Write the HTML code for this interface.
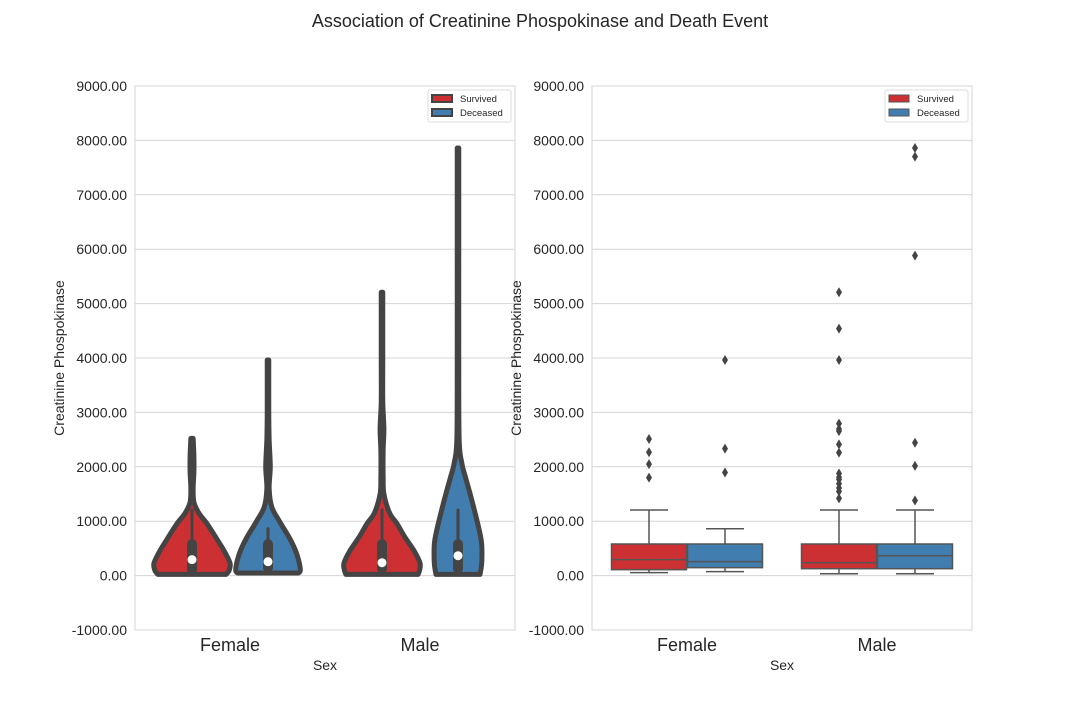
<!DOCTYPE html>
<html><head><meta charset="utf-8"><style>
body{margin:0;background:#fff;font-family:"Liberation Sans",Arial,sans-serif}
svg text{font-family:"Liberation Sans",Arial,sans-serif}
</style></head><body>
<svg id="c" width="1080" height="720" xmlns="http://www.w3.org/2000/svg">
<text x="540" y="27" text-anchor="middle" font-size="18" fill="#262626">Association of Creatinine Phospokinase and Death Event</text>
</svg>
<script>
const categories=["Female","Male"];
const hues=["Survived","Deceased"];
const yTicks=[-1000,0,1000,2000,3000,4000,5000,6000,7000,8000,9000];
// violin profiles: values and relative density (0-1)
const vFS_v=[23,100,230,450,710,950,1150,1350,1600,1900,2200,2522];
const vFS_d=[0.9,0.98,1,0.85,0.62,0.4,0.18,0.05,0.03,0.05,0.05,0.03];
const vFD_v=[47,100,300,500,710,1000,1260,1600,2000,2500,3000,3964];
const vFD_d=[0.8,0.85,0.8,0.7,0.55,0.3,0.1,0.03,0.06,0.03,0.02,0.02];
const vMS_v=[23,100,230,450,710,950,1150,1500,1800,2300,2700,3200,4000,5209];
const vMS_d=[0.95,0.99,1,0.85,0.6,0.4,0.2,0.05,0.03,0.03,0.05,0.02,0.02,0.02];
const vMD_v=[23,200,400,600,800,1150,1500,1800,2070,2500,4000,6000,7861];
const vMD_d=[0.58,0.62,0.63,0.62,0.57,0.45,0.32,0.2,0.1,0.03,0.02,0.02,0.02];
// box stats [low, q1, median, q3, high]
const bFS=[54,109,293,581,1206], bFD=[72,146,256,581,862];
const bMS=[35,127,237,581,1206], bMD=[35,127,366,581,1206];
const oFS=[2511,2267,2050,1800], oFD=[3964,2334,1896];
const oMS=[5209,4540,3964,2794,2695,2656,2413,2261,1876,1808,1767,1688,1610,1548,1419];
const oMD=[7861,7702,5882,2442,2017,1380];
const violins=[[vFS_v,vFS_d],[vFD_v,vFD_d],[vMS_v,vMS_d],[vMD_v,vMD_d]];
const boxes=[bFS,bFD,bMS,bMD];
const outl=[oFS,oFD,oMS,oMD];
const colors=["#cd3033","#427daf"];
const NS="http://www.w3.org/2000/svg";
const svg=document.getElementById('c');
function mk(t,a,p){const e=document.createElementNS(NS,t);for(const k in a)e.setAttribute(k,a[k]);(p||svg).appendChild(e);return e;}
const Y0=86,Y1=630,vmin=-1000,vmax=9000;
function y(v){return Y1-(v-vmin)/(vmax-vmin)*(Y1-Y0);}
function smooth(pts){
  let d='M'+pts[0][0]+','+pts[0][1];
  for(let i=0;i<pts.length-1;i++){
    const p0=pts[Math.max(0,i-1)],p1=pts[i],p2=pts[i+1],p3=pts[Math.min(pts.length-1,i+2)];
    const c1=[p1[0]+(p2[0]-p0[0])/6,p1[1]+(p2[1]-p0[1])/6];
    const c2=[p2[0]-(p3[0]-p1[0])/6,p2[1]-(p3[1]-p1[1])/6];
    d+=` C${c1[0]},${c1[1]} ${c2[0]},${c2[1]} ${p2[0]},${p2[1]}`;
  }
  return d;
}
function panel(x0,kind){
  const W=380,x1=x0+W;
  const g=mk('g',{});
  
  
  function cx(ci,hi){return x0+W*(ci+0.5)/2+(hi===0?-38:38);}
  yTicks.forEach(t=>{
    const l=mk('line',{x1:x0,x2:x1,y1:y(t),y2:y(t),stroke:'#d5d5d5','stroke-width':1},g);
    
    
    const tx=mk('text',{x:x0-8,y:y(t)+5,'text-anchor':'end','font-size':14,fill:'#262626'},g);
    
    
    tx.textContent=t.toFixed(2);
  });
  const fr=mk('rect',{x:x0,y:Y0,width:W,height:Y1-Y0,fill:'none',stroke:'#d5d5d5'},g);
  
  
  categories.forEach((c,ci)=>{
    const t=mk('text',{x:x0+W*(ci+0.5)/2,y:651,'text-anchor':'middle','font-size':18,fill:'#262626'},g);
    
    
    t.textContent=c;
  });
  const xt=mk('text',{x:x0+W/2,y:670,'text-anchor':'middle','font-size':14,fill:'#262626'},g);
  
  
  xt.textContent='Sex';
  const yt=mk('text',{x:0,y:0,'text-anchor':'middle','font-size':14,fill:'#262626',transform:`translate(${x0-71},${(Y0+Y1)/2}) rotate(-90)`},g);
  
  
  yt.textContent='Creatinine Phospokinase';
  for(let i=0;i<4;i++){
    const ci=Math.floor(i/2),hi=i%2,c=cx(ci,hi),b=boxes[i];
    if(kind==='violin'){
      const [vs,ds]=violins[i];const hw=38;
      const right=vs.map((v,k)=>[c+ds[k]*hw,y(v)]);
      const left=vs.map((v,k)=>[c-ds[k]*hw,y(v)]).reverse();
      let d=smooth(right)+' L'+left[0][0]+','+left[0][1]+smooth(left).replace(/^M[^ ]+/,'')+'Z';
      const p=mk('path',{d:d,fill:colors[hi],stroke:'#444','stroke-width':5,'stroke-linejoin':'round'},g);
      
      
      const w=mk('line',{x1:c,x2:c,y1:y(b[0]),y2:y(b[4]),stroke:'#444','stroke-width':3,'stroke-linecap':'round'},g);
      
      
      const q=mk('line',{x1:c,x2:c,y1:y(b[1]),y2:y(b[3]),stroke:'#444','stroke-width':10,'stroke-linecap':'round'},g);
      
      
      const m=mk('circle',{cx:c,cy:y(b[2]),r:4.5,fill:'#fff'},g);
      
      
    } else {
      const bw=75;
      const w=mk('path',{d:`M${c},${y(b[0])}V${y(b[1])}M${c},${y(b[3])}V${y(b[4])}M${c-19},${y(b[0])}H${c+19}M${c-19},${y(b[4])}H${c+19}`,stroke:'#555','stroke-width':1.5,fill:'none'},g);
      
      
      const r=mk('rect',{x:c-bw/2,y:y(b[3]),width:bw,height:y(b[1])-y(b[3]),fill:colors[hi],stroke:'#555','stroke-width':1.5},g);
      
      
      const m=mk('line',{x1:c-bw/2,x2:c+bw/2,y1:y(b[2]),y2:y(b[2]),stroke:'#555','stroke-width':1.5},g);
      
      
      outl[i].forEach(v=>{
        const o=mk('path',{d:`M${c},${y(v)-5}L${c+3},${y(v)}L${c},${y(v)+5}L${c-3},${y(v)}Z`,fill:'#444'},g);
        
        
      });
    }
  }
  const lx=x1-87,ly=90;
  const lg=mk('g',{},g);
  
  
  const lb=mk('rect',{x:lx,y:ly,width:83,height:32,rx:2,fill:'#fff',stroke:'#ddd'},lg);
  
  
  hues.forEach((h,hi)=>{
    const s=mk('rect',{x:lx+4,y:ly+5+hi*14,width:20,height:7,fill:colors[hi],stroke:kind==='violin'?'#444':'#555','stroke-width':kind==='violin'?2:1},lg);
    
    
    const t=mk('text',{x:lx+32,y:ly+12+hi*14,'font-size':9.5,fill:'#262626'},lg);
    
    
    t.textContent=h;
  });
}
panel(135,'violin');
panel(592,'box');
</script>
</body></html>
